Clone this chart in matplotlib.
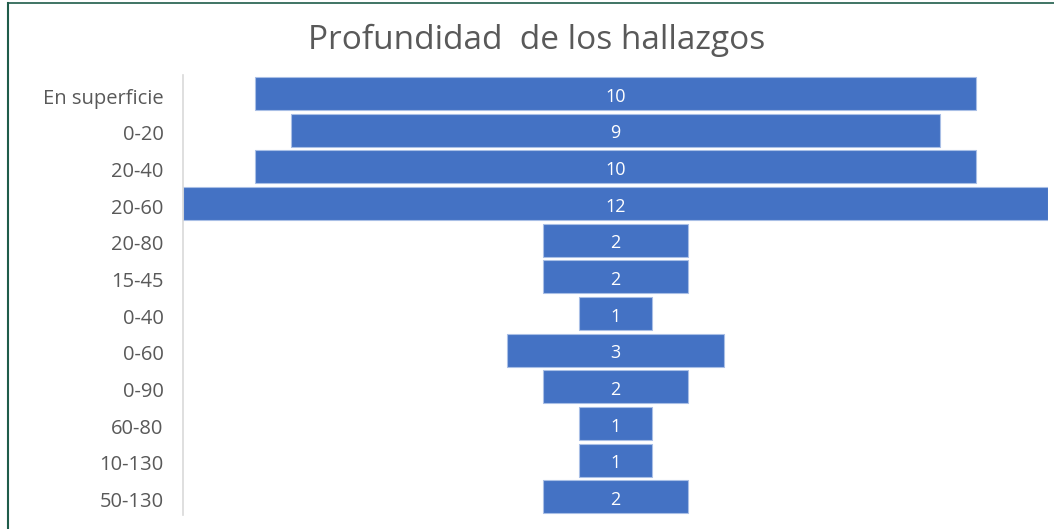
import matplotlib
matplotlib.use("Agg")
import matplotlib.pyplot as plt
import matplotlib.transforms as mtransforms
from matplotlib.lines import Line2D

categories = ["En superficie", "0-20", "20-40", "20-60", "20-80", "15-45",
              "0-40", "0-60", "0-90", "60-80", "10-130", "50-130"]
values = [10, 9, 10, 12, 2, 2, 1, 3, 2, 1, 1, 2]

W, H = 1054, 529
fig = plt.figure(figsize=(W / 100, H / 100), dpi=100)
fig.patch.set_facecolor("white")
FONT = ["Open Sans", "DejaVu Sans"]

ax = fig.add_axes([183 / W, 1 - 515 / H, (1048 - 183) / W, (515 - 75) / H])
ypos = list(range(len(categories)))
lefts = [-v / 2 for v in values]
ax.barh(ypos, values, left=lefts, height=0.9, color="#4472C4",
        edgecolor="#A9BFE6", linewidth=0.8)
for y, v in zip(ypos, values):
    ax.annotate(str(v), (0, y), xytext=(0, -2.5), textcoords="offset points",
                ha="center", va="center", color="white",
                fontsize=13, family=FONT)

ax.set_xlim(-6, 6)
ax.set_ylim(len(categories) - 0.5, -0.5)
ax.set_yticks(ypos)
ax.set_yticklabels(categories, color="#595959", fontsize=14.5, family=FONT)
ax.tick_params(axis="y", length=0, pad=14)
shift = mtransforms.ScaledTranslation(0, -2 / 72, fig.dpi_scale_trans)
for lab in ax.get_yticklabels():
    lab.set_transform(lab.get_transform() + shift)
ax.set_xticks([])
for s in ["top", "right", "bottom"]:
    ax.spines[s].set_visible(False)
ax.spines["left"].set_color("#D9D9D9")
ax.spines["left"].set_linewidth(1.2)

fig.text(537 / W, 1 - 40 / H, "Profundidad  de los hallazgos", ha="center",
         va="center", fontsize=24, color="#595959", family=FONT)

# frame lines (left and top)
fig.add_artist(Line2D([7.5 / W, 7.5 / W], [0, 1 - 3 / H], color="#1F5C4A",
                      linewidth=1.5, transform=fig.transFigure))
fig.add_artist(Line2D([7.5 / W, 1], [1 - 3 / H, 1 - 3 / H], color="#1F5C4A",
                      linewidth=1.2, transform=fig.transFigure))

fig.savefig("out.png", dpi=100)
